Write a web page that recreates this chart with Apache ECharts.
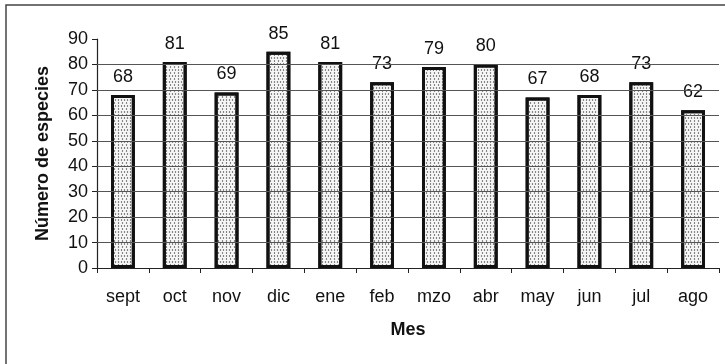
<!DOCTYPE html>
<html><head><meta charset="utf-8">
<script src="https://cdn.jsdelivr.net/npm/echarts@6/dist/echarts.min.js"></script>
<style>html,body{margin:0;padding:0;background:#fff}#c{width:725px;height:364px}</style>
</head><body><div id="c"></div>
<script>
const categories = ['sept','oct','nov','dic','ene','feb','mzo','abr','may','jun','jul','ago'];
const values = [68,81,69,85,81,73,79,80,67,68,73,62];
const yTicks = [0,10,20,30,40,50,60,70,80,90];
const gridValues = [10,20,30,40,50,60,70,80];

const chart = echarts.init(document.getElementById('c'), null, {renderer:'canvas'});
const font = 'Liberation Sans, Arial, sans-serif';
chart.setOption({
  animation:false,
  backgroundColor:'#fff',
  graphic:[{type:'rect', shape:{x:6,y:5,width:800,height:500}, style:{fill:'none', stroke:'#444', lineWidth:1.5}, silent:true}],
  grid:{left:97, right:6, top:39, bottom:96, containLabel:false},
  xAxis:{
    type:'category', data:categories,
    name:'Mes', nameLocation:'middle', nameGap:53,
    nameTextStyle:{fontFamily:font, fontSize:18, fontWeight:'bold', color:'#111'},
    axisLine:{lineStyle:{color:'#222', width:1.2}},
    axisTick:{show:true, alignWithLabel:false, length:5, lineStyle:{color:'#222'}},
    axisLabel:{fontFamily:font, fontSize:18, color:'#111', margin:20},
    splitLine:{show:false}
  },
  yAxis:{
    type:'value', min:yTicks[0], max:yTicks[yTicks.length-1], interval:10,
    name:'Número de especies', nameLocation:'middle', nameGap:45,
    nameTextStyle:{fontFamily:font, fontSize:18, fontWeight:'bold', color:'#111'},
    axisLine:{show:true, lineStyle:{color:'#222', width:1.2}},
    axisTick:{show:true, length:5, lineStyle:{color:'#222'}},
    axisLabel:{fontFamily:font, fontSize:18, color:'#111', margin:9,
      formatter:function(v){return yTicks.indexOf(v)>=0? String(v):'';}},
    splitLine:{show:false}
  },
  series:[{
    type:'line', data:[], z:1, silent:true,
    markLine:{silent:true, symbol:'none', label:{show:false},
      lineStyle:{color:'#555', width:1, type:'solid'},
      data:gridValues.map(function(v){return {yAxis:v};})}
  },{
    type:'bar', data:values, barWidth:'46%', z:3,
    itemStyle:{color:'#f6f6f6', borderColor:'#111', borderWidth:3,
      decal:{symbol:'circle', symbolSize:0.7, color:'#444', dashArrayX:[[3,0],[0,1,3,0]], dashArrayY:[2,1], rotation:0}},
    label:{show:true, position:'top', distance:9, fontFamily:font, fontSize:18, color:'#111'}
  }]
});
</script></body></html>
